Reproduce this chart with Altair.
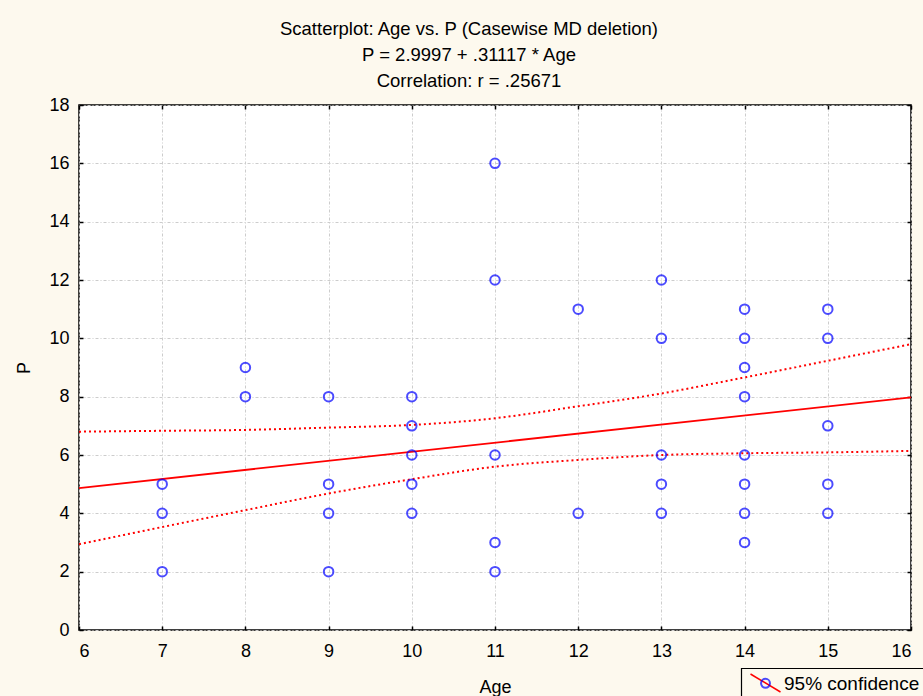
import altair as alt
import pandas as pd

# Observations (casewise deletion applied)
age = [7, 7, 7,
       8, 8,
       9, 9, 9, 9,
       10, 10, 10, 10, 10,
       11, 11, 11, 11, 11,
       12, 12,
       13, 13, 13, 13, 13,
       14, 14, 14, 14, 14, 14, 14, 14,
       15, 15, 15, 15, 15]
p_val = [5, 4, 2,
         9, 8,
         8, 5, 4, 2,
         8, 7, 6, 5, 4,
         16, 12, 6, 3, 2,
         11, 4,
         12, 10, 6, 5, 4,
         11, 10, 9, 8, 6, 5, 4, 3,
         11, 10, 7, 5, 4]

# Fitted line: P = 2.9997 + .31117 * Age
intercept = 2.9997
slope = 0.31117
fit_age = [6, 16]

# 95% confidence limits of the fitted line
band_age = [6, 7, 8, 9, 10, 11, 12, 13, 14, 15, 16]
band_upper = [6.80, 6.83, 6.86, 6.94, 7.03, 7.26, 7.67, 8.11, 8.66, 9.23, 9.80]
band_lower = [2.94, 3.53, 4.11, 4.68, 5.17, 5.60, 5.83, 6.00, 6.06, 6.09, 6.14]

x_ticks = list(range(6, 17))
y_ticks = list(range(0, 19, 2))

title_lines = ["Scatterplot: Age vs. P (Casewise MD deletion)",
               "P = 2.9997 + .31117 * Age",
               "Correlation: r = .25671"]
legend_label = "95% confidence"

W, H = 832, 525
BG = "#fdf9ee"
FONT = "Liberation Sans"

pts = pd.DataFrame({"Age": age, "P": p_val})
fit = pd.DataFrame({"Age": fit_age, "P": [intercept + slope * a for a in fit_age]})
band = pd.concat([
    pd.DataFrame({"Age": band_age, "P": band_upper, "limit": "upper"}),
    pd.DataFrame({"Age": band_age, "P": band_lower, "limit": "lower"}),
])

xs = alt.Scale(domain=[6, 16], nice=False, zero=False)
ys = alt.Scale(domain=[0, 18], nice=False)

grid_kw = dict(grid=True, gridColor="#cccccc", gridDash=[3, 2, 1, 2], gridWidth=1)

points = alt.Chart(pts).mark_point(
    shape="circle", filled=False, color="#0000ff", size=90, strokeWidth=2
).encode(
    x=alt.X("Age:Q", scale=xs, axis=alt.Axis(
        values=x_ticks, ticks=False, domain=False, labelPadding=12,
        titlePadding=18, title="Age", **grid_kw)),
    y=alt.Y("P:Q", scale=ys, axis=alt.Axis(
        values=y_ticks, ticks=False, domain=False, labelPadding=10,
        titlePadding=15, title="P", **grid_kw)),
)

# inward tick marks along the bottom and left edges
fit_line = alt.Chart(fit).mark_line(color="#ff0000", strokeWidth=1.8).encode(
    x=alt.X("Age:Q", scale=xs, axis=alt.Axis(
        orient="top", offset=-H, values=x_ticks, labels=False, ticks=True,
        tickSize=4, tickWidth=1.5, tickColor="black", domain=False, grid=False, title=None)),
    y=alt.Y("P:Q", scale=ys, axis=alt.Axis(
        orient="right", offset=-W, values=y_ticks, labels=False, ticks=True,
        tickSize=4, tickWidth=1.5, tickColor="black", domain=False, grid=False, title=None)),
)

# inward tick marks along the top and right edges
bands = alt.Chart(band).mark_line(
    color="#ff0000", strokeWidth=2, strokeDash=[2, 3], interpolate="monotone"
).encode(
    x=alt.X("Age:Q", scale=xs, axis=alt.Axis(
        orient="bottom", offset=-H, values=x_ticks, labels=False, ticks=True,
        tickSize=4, tickWidth=1.5, tickColor="black", domain=False, grid=False, title=None)),
    y=alt.Y("P:Q", scale=ys, axis=alt.Axis(
        orient="left", offset=-W, values=y_ticks, labels=False, ticks=True,
        tickSize=4, tickWidth=1.5, tickColor="black", domain=False, grid=False, title=None)),
    detail="limit:N",
)

# legend box below the plot, bottom right
one = pd.DataFrame({"k": [0]})
leg_box = alt.Chart(one).mark_rect(fill=BG, stroke="black", strokeWidth=1.2).encode(
    x=alt.value(662.5), x2=alt.value(900), y=alt.value(563.5), y2=alt.value(600))
leg_line = alt.Chart(one).mark_rule(color="#ff0000", strokeWidth=1.5).encode(
    x=alt.value(671.5), x2=alt.value(701.5), y=alt.value(569), y2=alt.value(587))
leg_pt = alt.Chart(one).mark_point(
    shape="circle", filled=False, color="#0000ff", size=80, strokeWidth=2
).encode(x=alt.value(686.5), y=alt.value(578.3))
leg_text = alt.Chart(one).mark_text(
    text=legend_label, font=FONT, fontSize=19, align="left", baseline="alphabetic", color="black"
).encode(x=alt.value(705), y=alt.value(585))

chart = alt.layer(
    bands, fit_line, points, leg_box, leg_line, leg_pt, leg_text
).resolve_axis(
    x="independent", y="independent"
).properties(
    width=W, height=H,
    autosize=alt.AutoSizeParams(type="none"),
    padding={"left": 79, "top": 105, "right": 12, "bottom": 66},
    background=BG,
    title=alt.TitleParams(
        text=title_lines, font=FONT, fontSize=18.5, fontWeight="normal", color="black",
        anchor="middle", frame="group", dx=-26, offset=6, lineHeight=26),
).configure_view(
    fill="white", stroke="black", strokeWidth=1.5
).configure_axis(
    labelFont=FONT, labelFontSize=18, labelColor="black",
    titleFont=FONT, titleFontSize=18, titleFontWeight="normal", titleColor="black",
)

chart.save("out.html", embed_options={"renderer": "svg", "actions": False})
